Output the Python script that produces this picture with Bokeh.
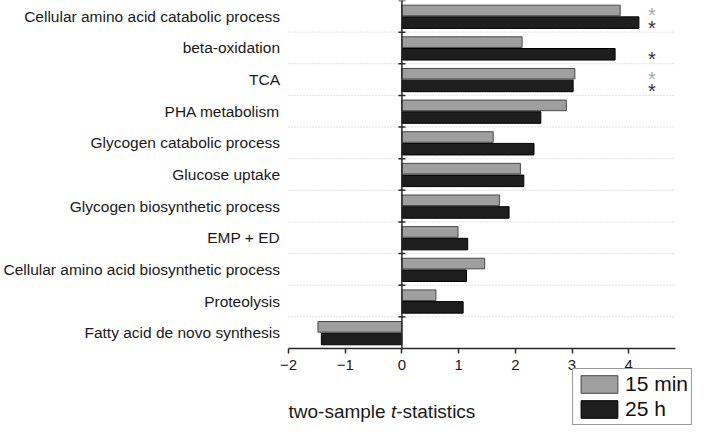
from bokeh.plotting import figure
from bokeh.models import (Range1d, FixedTicker, Legend, LegendItem, Label,
                          ColumnDataSource)
from bokeh.core.properties import value
from bokeh.embed import file_html
from bokeh.resources import INLINE

# ---------------- data ----------------
categories = [
    "Cellular amino acid catabolic process",
    "beta-oxidation",
    "TCA",
    "PHA metabolism",
    "Glycogen catabolic process",
    "Glucose uptake",
    "Glycogen biosynthetic process",
    "EMP + ED",
    "Cellular amino acid biosynthetic process",
    "Proteolysis",
    "Fatty acid de novo synthesis",
]
t_15min = [3.85, 2.12, 3.05, 2.90, 1.61, 2.09, 1.72, 0.99, 1.46, 0.60, -1.48]
t_25h = [4.18, 3.76, 3.02, 2.45, 2.33, 2.15, 1.89, 1.16, 1.14, 1.08, -1.42]
sig_15min = [True, False, True, False, False, False, False, False, False, False, False]
sig_25h = [True, True, True, False, False, False, False, False, False, False, False]
series_names = ["15 min", "25 h"]
x_ticks = [-2, -1, 0, 1, 2, 3, 4]
x_tick_labels = ["\u22122", "\u22121", "0", "1", "2", "3", "4"]

FONT = "Liberation Sans"
GRAY = "#9f9f9f"
DARK = "#1e1e1e"
GRAY_LINE = "#484848"
DARK_LINE = "#000000"
AX = "#2a2a2a"
TXT = "#1a1a1a"

n = len(categories)
rows = list(range(n))
OFF15, OFF25 = -0.185, 0.2
H15, H25 = 0.335, 0.365

# canvas geometry (frame fills the whole canvas)
W, H = 693, 426
AXIS_LEFT_PX = 288          # where x = -2 sits
PX_PER_UNIT = 56.7
ROW_PX = 348 / n
X_MIN, X_AXIS_END = -2, 4.825
x_left = X_MIN - AXIS_LEFT_PX / PX_PER_UNIT
x_right = X_MIN + (W - AXIS_LEFT_PX) / PX_PER_UNIT
y_bottom = -0.5 + H / ROW_PX

p = figure(width=W, height=H, output_backend="svg", toolbar_location=None,
           x_range=Range1d(x_left, x_right), y_range=Range1d(y_bottom, -0.5),
           y_axis_location=None,
           min_border_left=0, min_border_right=0, min_border_top=0,
           min_border_bottom=0)
p.outline_line_color = None
p.xgrid.grid_line_color = None
p.ygrid.grid_line_color = None
p.background_fill_color = "white"
p.border_fill_color = "white"

# dotted separators between categories
seps = [r + 0.5 for r in rows[:-1]]
p.segment(x0=[X_MIN] * len(seps), x1=[X_AXIS_END] * len(seps), y0=seps, y1=seps,
          line_color="#c4c4c4", line_dash="1 2", line_width=1)

# category labels
p.text(x=[X_MIN] * n, y=rows, text=categories, x_offset=-8.5,
       text_font=value(FONT), text_font_size="15.5px", text_color=TXT,
       text_align="right", text_baseline="middle")

# bars
src15 = ColumnDataSource(dict(y=[r + OFF15 for r in rows], t=t_15min))
src25 = ColumnDataSource(dict(y=[r + OFF25 for r in rows], t=t_25h))
r15 = p.hbar(y="y", left=0, right="t", height=H15, source=src15,
             fill_color=GRAY, line_color=GRAY_LINE, line_width=1)
r25 = p.hbar(y="y", left=0, right="t", height=H25, source=src25,
             fill_color=DARK, line_color=DARK_LINE, line_width=1)

# vertical zero axis with boundary ticks
p.segment(x0=[0], x1=[0], y0=[-0.5], y1=[n - 0.5], line_color=AX, line_width=1.5)
p.scatter(x=[0] * n, y=[r - 0.5 for r in rows], marker="dash", size=7,
          line_color=AX, line_width=1.5)

# significance asterisks
star_x = 4.41
s15 = ColumnDataSource(dict(x=[star_x for r, s in zip(rows, sig_15min) if s],
                            y=[r + OFF15 for r, s in zip(rows, sig_15min) if s]))
s25 = ColumnDataSource(dict(x=[star_x for r, s in zip(rows, sig_25h) if s],
                            y=[r + OFF25 for r, s in zip(rows, sig_25h) if s]))
p.text(x="x", y="y", text=value("*"), source=s15, text_font=value(FONT),
       text_font_size="20px", text_color="#aaaaaa", text_align="center",
       text_baseline="alphabetic", y_offset=5)
p.text(x="x", y="y", text=value("*"), source=s25, text_font=value(FONT),
       text_font_size="20px", text_color="#333333", text_align="center",
       text_baseline="alphabetic", y_offset=5)

# x axis, drawn at the bottom of the category rows
xa = p.xaxis[0]
xa.fixed_location = n - 0.5
xa.bounds = (X_MIN, X_AXIS_END)
xa.ticker = FixedTicker(ticks=x_ticks)
xa.major_label_overrides = dict(zip(x_ticks, x_tick_labels))
xa.axis_line_color = AX
xa.axis_line_width = 1.5
xa.major_tick_line_color = AX
xa.major_tick_line_width = 1.5
xa.major_tick_out = 5
xa.major_tick_in = 0
xa.minor_tick_line_color = None
xa.major_label_text_font = FONT
xa.major_label_text_font_size = "15px"
xa.major_label_text_color = TXT
xa.major_label_standoff = 6

# axis title (with italic t)
fs = 19
title_y = -0.5 + 411 / ROW_PX
for txt, dx, style in [("two-sample", 0, "normal"), ("t", 102.4, "italic"),
                       ("-statistics", 107.7, "normal")]:
    p.add_layout(Label(x=X_MIN, y=title_y, x_offset=dx, text=txt,
                       text_font=FONT, text_font_size=f"{fs}px", text_font_style=style,
                       text_color=TXT, text_align="left",
                       text_baseline="alphabetic"))

# legend
legend = Legend(items=[LegendItem(label=series_names[0], renderers=[r15]),
                       LegendItem(label=series_names[1], renderers=[r25])],
                location="bottom_right", margin=1, padding=3, spacing=1,
                glyph_width=46, glyph_height=22, label_height=22, label_standoff=3,
                label_text_font=FONT, label_text_font_size="21px",
                label_text_color="#111111", border_line_color="#333333",
                border_line_width=1, background_fill_color="white",
                background_fill_alpha=1)
p.add_layout(legend)

open("out.html", "w").write(file_html(p, INLINE))
